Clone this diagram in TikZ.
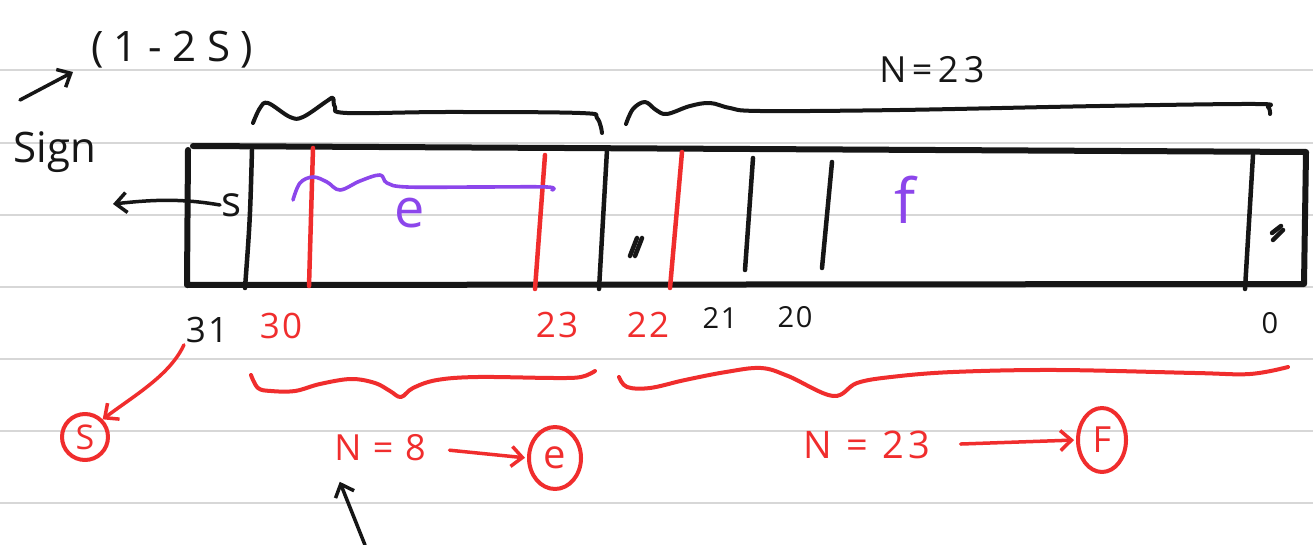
\documentclass[tikz,border=0pt]{standalone}
\usepackage{fontspec}
\setmainfont{Open Sans}
\usetikzlibrary{arrows.meta,shapes.geometric}
\definecolor{ink}{RGB}{22,22,22}
\definecolor{pen}{RGB}{240,45,45}
\definecolor{vio}{RGB}{140,70,235}
\definecolor{rulegray}{RGB}{215,215,215}
\begin{document}
\begin{tikzpicture}[x=1pt,y=-1pt,line cap=round,line join=round,
  ruleline/.style={rulegray,line width=2pt},
  frame/.style={ink,line width=6pt},
  bitline/.style={ink,line width=4.5pt},
  redline/.style={pen,line width=4.5pt},
  brace/.style={line width=4pt},
  txt/.style={inner sep=0pt,outer sep=2pt},
  big/.style={font=\fontsize{42}{42}\selectfont},
  mid/.style={font=\fontsize{35}{35}\selectfont\addfontfeatures{LetterSpace=6}},
  small/.style={font=\fontsize{29}{29}\selectfont\addfontfeatures{LetterSpace=6}},
  circ/.style={pen,draw,line width=4pt,ellipse,inner sep=3pt},
  tip/.style={-{Straight Barb[length=11pt,width=20pt,line width=3.5pt]}},
  conn/.style={line width=3.5pt,tip}]
\useasboundingbox (0,0) rectangle (1313,545);
\fill[white] (0,0) rectangle (1313,545);
% ruled paper
\foreach \yy in {70,143,215,287,359,431,503}
  \draw[ruleline] (0,\yy) -- (1313,\yy);
% register frame
\draw[frame] (193,146) -- (1306,152) -- (1304,284) -- (187,285) -- (188,150);
% dividers
\draw[bitline] (252,150) .. controls (250,220) .. (245,288);
\draw[redline] (313,148) -- (309,286);
\draw[redline] (545,155) -- (535,289);
\draw[bitline] (607,150) -- (599,289);
\draw[redline] (682,152) -- (670,288);
\draw[bitline] (753,158) -- (745,270);
\draw[bitline] (832,162) -- (822,268);
\draw[bitline] (1253,155) -- (1245,289);
% small marks
\draw[ink,line width=4.5pt] (630,256) -- (637,238);
\draw[ink,line width=4.5pt] (635,256) -- (642,238);
\draw[ink,line width=4.5pt] (1273,240) -- (1283,230);
\draw[ink,line width=4.5pt] (1272,233) -- (1281,226);
% purple squiggle over e
\draw[vio,line width=3.6pt] plot[smooth,tension=0.6] coordinates {(293,200) (300,183) (313,177) (327,182) (340,190) (360,181) (380,175) (387,183) (407,187) (480,187) (547,187) (552,190)};
% top braces (black)
\draw[ink,brace] plot[smooth,tension=0.6] coordinates {(253,123) (260,108) (268,103) (290,117) (303,117) (327,101) (333,98) (335,107) (347,113) (447,112) (580,113) (597,118) (602,133)};
\draw[ink,brace] plot[smooth,tension=0.6] coordinates {(626,124) (633,109) (645,102) (656,110) (667,114) (690,106) (710,103) (730,108) (760,111) (900,110) (1100,106) (1255,104) (1268,107) (1270,114)};
% bottom braces (red)
\draw[pen,brace] plot[smooth,tension=0.6] coordinates {(251,375) (258,388) (271,391) (295,391) (320,384) (351,379) (375,383) (390,391) (401,397) (413,388) (437,380) (478,377) (554,378) (581,377) (595,371)};
\draw[pen,brace] plot[smooth,tension=0.6] coordinates {(619,377) (627,387) (650,388) (685,380) (726,372) (761,368) (788,376) (833,396) (857,383) (891,377) (953,372) (1057,370) (1195,373) (1250,374) (1288,367)};
% texts
\node[txt,font=\fontsize{42}{42}\selectfont\addfontfeatures{LetterSpace=25},ink] (bias) at (172,50) {(1-2S)};
\node[txt,big,ink] (sign) at (55,152) {Sign};
\node[txt,font=\fontsize{42}{42}\selectfont,ink] (s) at (232,205) {s};
\node[txt,font=\fontsize{54}{54}\selectfont,vio] (e) at (410,213) {e};
\node[txt,font=\fontsize{62}{62}\selectfont,vio] (f) at (905,200) {f};
\node[txt,font=\fontsize{36}{36}\selectfont\addfontfeatures{LetterSpace=15},ink] (ntop) at (932,70) {N=23};
\node[txt,mid,ink] (b31) at (207,330) {31};
\node[txt,mid,pen] (b30) at (281,326) {30};
\node[txt,mid,pen] (b23) at (557,325) {23};
\node[txt,mid,pen] (b22) at (648,325) {22};
\node[txt,small,ink] (b21) at (720,318) {21};
\node[txt,small,ink] (b20) at (795,317) {20};
\node[txt,small,ink] (b0) at (1270,323) {0};
\node[txt,font=\fontsize{36}{36}\selectfont\addfontfeatures{LetterSpace=6},pen] (n8) at (380,448) {N = 8};
\node[txt,font=\fontsize{38}{38}\selectfont\addfontfeatures{LetterSpace=12},pen] (n23) at (867,445) {N = 23};
\node[circ,font=\fontsize{34}{34}\selectfont,minimum width=46pt,minimum height=46pt] (cs) at (85,437) {S};
\node[circ,font=\fontsize{40}{40}\selectfont,minimum width=52pt,minimum height=62pt] (ce) at (555,458) {e};
\node[circ,font=\fontsize{36}{36}\selectfont,minimum width=48pt,minimum height=64pt] (cf) at (1102,440) {F};
% connectors
\coordinate (signtail) at (20,100);
\coordinate (signhead) at (73,72);
\coordinate (outs) at (113,204);
\coordinate (below) at (365,545);
\draw[ink,conn] (signtail) -- (signhead);
\draw[ink,conn] (s.west) .. controls (180,198) and (150,200) .. (outs);
\draw[pen,conn] (b31.south west) .. controls (170,375) and (135,395) .. (cs.north east);
\draw[pen,conn,shorten <=22pt,shorten >=2pt] (n8.east) -- (ce.west);
\draw[pen,conn,shorten <=28pt,shorten >=2pt] (n23.east) -- (cf.west);
\draw[ink,conn,shorten >=20pt] (below) -- (n8.south west);
\end{tikzpicture}
\end{document}
